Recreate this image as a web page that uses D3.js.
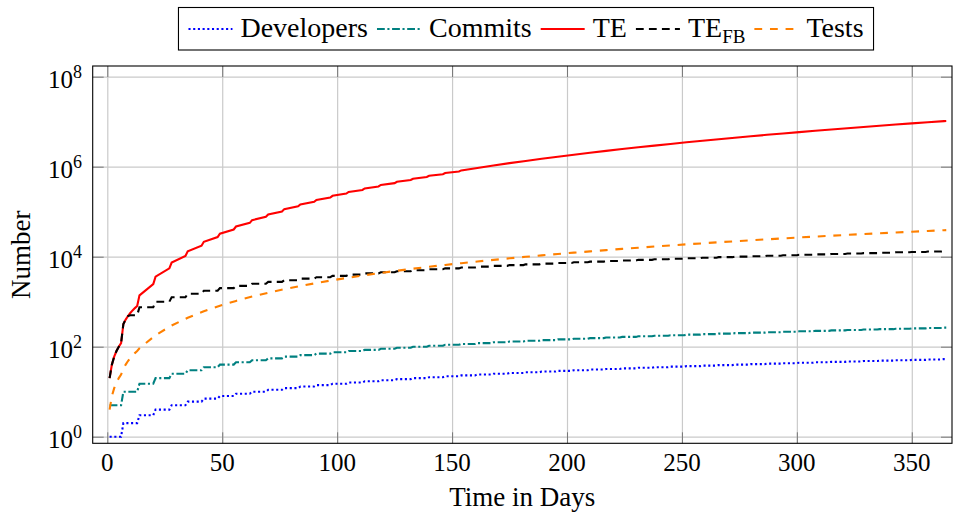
<!DOCTYPE html>
<html>
<head>
<meta charset="utf-8">
<script src="https://cdn.jsdelivr.net/npm/d3@7"></script>
<style>
  body { margin: 0; background: #fff; }
  text { font-family: "Liberation Serif", serif; fill: #000; }
</style>
</head>
<body>
<div id="chart"></div>
<script>
// ---- data ----
// weekly step points (day on which the value changes)
var weekDays = [1, 7, 14, 21, 28, 35, 42, 49, 56, 63, 70, 77, 84, 91, 98, 105, 112, 119, 126, 133,
  140, 147, 154, 161, 168, 175, 182, 189, 196, 203, 210, 217, 224, 231, 238, 245, 252, 259, 266, 273,
  280, 287, 294, 301, 308, 315, 322, 329, 336, 343, 350, 357, 364, 365];
var developers = [1, 2, 3, 4, 5, 6, 7, 8, 9, 10, 11, 12, 13, 14, 15, 16, 17, 18, 19, 20,
  21, 22, 23, 24, 25, 26, 27, 28, 29, 30, 31, 32, 33, 34, 35, 36, 37, 38, 39, 40,
  41, 42, 43, 44, 45, 46, 47, 48, 49, 50, 51, 52, 53, 53];
var commits = [5, 10, 15, 20, 25, 30, 35, 40, 45, 50, 55, 60, 65, 70, 75, 80, 85, 90, 95, 100,
  105, 110, 115, 120, 125, 130, 135, 140, 145, 150, 155, 160, 165, 170, 175, 180, 185, 190, 195, 200,
  205, 210, 215, 220, 225, 230, 235, 240, 245, 250, 255, 260, 265, 265];

var testDays = [1, 2, 3, 4, 5, 6, 7, 8, 9, 10, 11, 12, 13, 14, 21, 28, 35, 42, 49, 56, 63, 70, 77, 84,
  91, 98, 105, 112, 119, 126, 133, 140, 147, 154, 161, 168, 175, 182, 189, 196, 203, 210, 217, 224,
  231, 238, 245, 252, 259, 266, 273, 280, 287, 294, 301, 308, 315, 322, 329, 336, 343, 350, 357, 364, 365];
var tests = [4, 8, 12, 16, 20, 24, 32, 40, 48, 56, 64, 72, 80, 92, 180, 296, 440, 612, 812, 1040,
  1300, 1580, 1890, 2230, 2600, 3000, 3420, 3870, 4350, 4860, 5400, 5960, 6550, 7170, 7820, 8500,
  9200, 9930, 10700, 11500, 12300, 13100, 14000, 14900, 15800, 16800, 17800, 18800, 19800, 20900,
  22000, 23100, 24300, 25500, 26700, 27900, 29200, 30500, 31800, 33100, 34500, 35900, 37300, 38800, 39000];

var teDays = [1, 2, 3, 4, 5, 6, 7, 8, 9, 10, 11, 12, 13, 14, 20, 21, 27, 28, 34, 35, 41, 42, 48, 49,
  55, 56, 62, 63, 69, 70, 76, 77, 83, 84, 90, 91, 97, 98, 104, 105, 111, 112, 118, 119, 125, 126,
  132, 133, 139, 140, 146, 147, 153, 154,
  161, 168, 175, 182, 189, 196, 203, 210, 217, 224, 231, 238, 245, 252, 259, 266, 273, 280, 287,
  294, 301, 308, 315, 322, 329, 336, 343, 350, 357, 364, 365];
var teValues = [20, 40, 60, 80, 100, 120, 320, 400, 480, 560, 640, 720, 800, 1380, 2460, 3600,
  5520, 7400, 10400, 13200, 17500, 21400, 27300, 32500, 40200, 46800, 56500, 64800, 76800, 86900,
  101000, 114000, 131000, 145000, 165000, 182000, 206000, 225000, 252000, 274000, 304000, 329000,
  364000, 392000, 431000, 462000, 505000, 540000, 588000, 626000, 679000, 721000, 779000, 825000,
  938000, 1060000, 1200000, 1340000, 1500000, 1660000, 1840000,
  2040000, 2240000, 2460000, 2690000, 2940000, 3200000, 3480000, 3770000, 4080000, 4400000,
  4740000, 5100000, 5470000, 5870000, 6280000, 6710000, 7160000, 7630000, 8110000, 8620000,
  9150000, 9710000, 10280000, 10340000];

var tefbDays = [1, 2, 3, 4, 5, 6, 7, 8, 9, 10, 14, 21, 28, 35, 42, 49, 56, 63, 70, 77, 84, 91, 98,
  105, 112, 119, 126, 133, 140, 147, 154, 161, 168, 175, 182, 189, 196, 203, 210, 217, 224, 231,
  238, 245, 252, 259, 266, 273, 280, 287, 294, 301, 308, 315, 322, 329, 336, 343, 350, 357, 364, 365];
var tefbValues = [20, 40, 60, 80, 100, 120, 320, 400, 480, 500, 750, 1000, 1250, 1500, 1750, 2000,
  2250, 2500, 2750, 3000, 3250, 3500, 3750, 4000, 4250, 4500, 4750, 5000, 5250, 5500, 5750, 6000,
  6250, 6500, 6750, 7000, 7250, 7500, 7750, 8000, 8250, 8500, 8750, 9000, 9250, 9500, 9750, 10000,
  10250, 10500, 10750, 11000, 11250, 11500, 11750, 12000, 12250, 12500, 12750, 13000, 13250, 13250];

var xTicks = [0, 50, 100, 150, 200, 250, 300, 350];
var yTicks = [1, 1e2, 1e4, 1e6, 1e8];
var yExponents = ["0", "2", "4", "6", "8"];

// ---- layout ----
var width = 953, height = 512;
var plotL = 92.7, plotR = 952, plotT = 66, plotB = 443.3;

var svg = d3.select("#chart").append("svg")
    .attr("width", width)
    .attr("height", height);

var x = d3.scaleLinear().domain([-6.35, 367.5]).range([plotL, plotR]);
var y = d3.scaleLog().domain([Math.pow(10, -0.147), Math.pow(10, 8.237)]).range([plotB, plotT]);

// grid
svg.append("g")
    .attr("transform", "translate(0," + plotB + ")")
    .call(d3.axisBottom(x).tickValues(xTicks).tickSize(-(plotB - plotT)).tickFormat(""))
    .call(g => g.select(".domain").remove())
    .selectAll("line").attr("stroke", "#cacaca").attr("stroke-width", 1.2);

svg.append("g")
    .attr("transform", "translate(" + plotL + ",0)")
    .call(d3.axisLeft(y).tickValues(yTicks).tickSize(-(plotR - plotL)).tickFormat(""))
    .call(g => g.select(".domain").remove())
    .selectAll("line").attr("stroke", "#cacaca").attr("stroke-width", 1.2);

// tick marks on all four sides, pointing inward
var tickLen = 11;
[[d3.axisBottom(x).tickValues(xTicks), "translate(0," + plotB + ")"],
 [d3.axisTop(x).tickValues(xTicks), "translate(0," + plotT + ")"],
 [d3.axisLeft(y).tickValues(yTicks), "translate(" + plotL + ",0)"],
 [d3.axisRight(y).tickValues(yTicks), "translate(" + plotR + ",0)"]
].forEach(a => {
    svg.append("g")
        .attr("transform", a[1])
        .call(a[0].tickSize(-tickLen).tickFormat(""))
        .call(g => g.select(".domain").remove())
        .selectAll("line").attr("stroke", "#777").attr("stroke-width", 1);
});

// x tick labels
svg.append("g")
    .selectAll("text")
    .data(xTicks)
    .enter().append("text")
    .attr("x", d => x(d))
    .attr("y", 471)
    .attr("text-anchor", "middle")
    .style("font-size", "25px")
    .text(d => d);

// y tick labels 10^n
var yLab = svg.append("g")
    .selectAll("text")
    .data(yTicks)
    .enter().append("text")
    .attr("x", 82)
    .attr("y", d => y(d) + 11)
    .attr("text-anchor", "end")
    .style("font-size", "25px");
yLab.append("tspan").text("10");
yLab.append("tspan")
    .attr("dy", -10)
    .style("font-size", "18px")
    .text((d, i) => yExponents[i]);

// axis titles
svg.append("text")
    .attr("x", (plotL + plotR) / 2)
    .attr("y", 506)
    .attr("text-anchor", "middle")
    .style("font-size", "27px")
    .text("Time in Days");

svg.append("text")
    .attr("transform", "translate(30," + ((plotT + plotB) / 2) + ") rotate(-90)")
    .attr("text-anchor", "middle")
    .style("font-size", "27px")
    .text("Number");

// ---- series ----
function stepPoints(days, vals) {
    var pts = [];
    days.forEach((d, i) => {
        pts.push([d, vals[i]]);
        if (i < days.length - 1 && days[i + 1] - 1 > d) pts.push([days[i + 1] - 1, vals[i]]);
    });
    return pts;
}

var series = [
    { label: "Developers", pts: stepPoints(weekDays, developers), color: "#0000ff", dash: "2.1,2.6" },
    { label: "Commits", pts: stepPoints(weekDays, commits), color: "#008080", dash: "7.8,2.6,2.1,2.6" },
    { label: "TE", pts: teDays.map((d, i) => [d, teValues[i]]), color: "#ff0000", dash: null },
    { label: "TE", sub: "FB", pts: stepPoints(tefbDays, tefbValues), color: "#000000", dash: "7.8,5.2" },
    { label: "Tests", pts: testDays.map((d, i) => [d, tests[i]]), color: "#ff8000", dash: "7.8,7.8" }
];

svg.append("clipPath").attr("id", "plotclip")
    .append("rect")
    .attr("x", plotL).attr("y", plotT)
    .attr("width", plotR - plotL).attr("height", plotB - plotT);

var line = d3.line().x(d => x(d[0])).y(d => y(d[1]));

svg.append("g")
    .attr("clip-path", "url(#plotclip)")
    .selectAll("path")
    .data(series)
    .enter().append("path")
    .attr("d", d => line(d.pts))
    .attr("fill", "none")
    .attr("stroke", d => d.color)
    .attr("stroke-width", 2.1)
    .attr("stroke-dasharray", d => d.dash);

// axis frame
svg.append("rect")
    .attr("x", plotL).attr("y", plotT)
    .attr("width", plotR - plotL).attr("height", plotB - plotT)
    .attr("fill", "none")
    .attr("stroke", "#000")
    .attr("stroke-width", 1.1);

// ---- legend ----
var legend = svg.append("g");
var legBox = legend.append("rect");
var cx = 186, lineLen = 44, lineY = 29, textY = 37;
series.forEach(s => {
    legend.append("line")
        .attr("x1", cx).attr("x2", cx + lineLen)
        .attr("y1", lineY).attr("y2", lineY)
        .attr("stroke", s.color)
        .attr("stroke-width", 2.1)
        .attr("stroke-dasharray", s.dash);
    cx += lineLen + 8;
    var t = legend.append("text")
        .attr("x", cx).attr("y", textY)
        .style("font-size", "28px");
    t.append("tspan").text(s.label);
    if (s.sub) t.append("tspan").attr("dy", 6).style("font-size", "19px").text(s.sub);
    cx += t.node().getBBox().width + 9;
});
var legW = cx - 176 + 1;
legBox.attr("x", 176).attr("y", 7.5)
    .attr("width", legW).attr("height", 42.5)
    .attr("fill", "#fff")
    .attr("stroke", "#000")
    .attr("stroke-width", 1.1);
// centre the legend over the reference position
legend.attr("transform", "translate(" + (526 - (176 + legW / 2)) + ",0)");
</script>
</body>
</html>
